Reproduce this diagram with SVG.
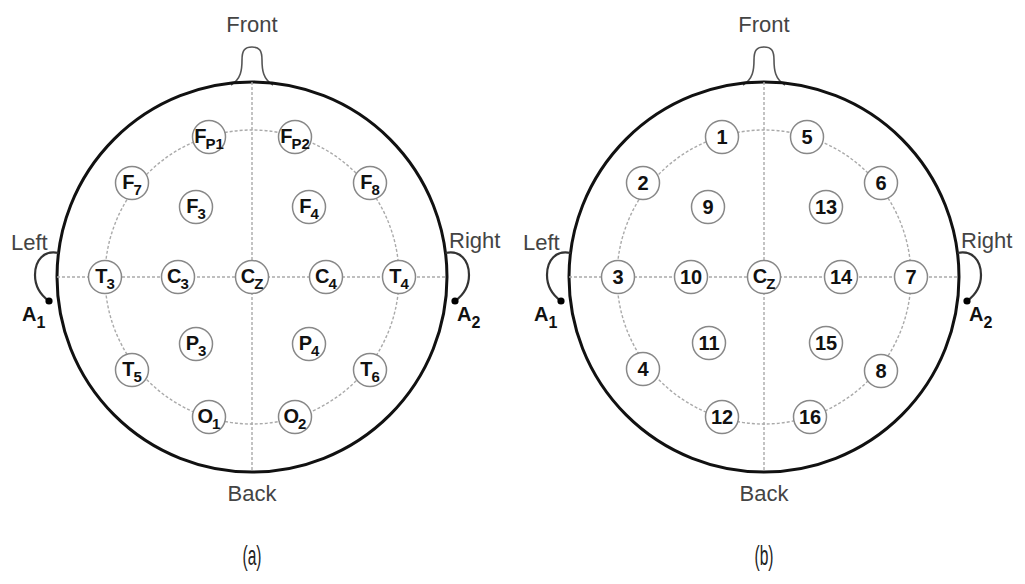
<svg xmlns="http://www.w3.org/2000/svg" width="1025" height="584" viewBox="0 0 1025 584">
  <style>
    .head { fill: none; stroke: #111; stroke-width: 3; }
    .nose { fill: #fff; stroke: #555; stroke-width: 1.6; }
    .ear { fill: none; stroke: #333; stroke-width: 2.2; }
    .guide { fill: none; stroke: #aaa; stroke-width: 1.4; stroke-dasharray: 3 2; }
    .el circle { fill: #fff; stroke: #888; stroke-width: 1.5; }
    .el text { font-family: "Liberation Sans", Arial, sans-serif; font-weight: bold; font-size: 20px; fill: #111; text-anchor: middle; }
    .sub { font-size: 15px; }
    .side { font-family: "Liberation Sans", Arial, sans-serif; font-size: 22px; fill: #444; }
    .ref { font-family: "Liberation Sans", Arial, sans-serif; font-size: 20px; font-weight: bold; fill: #111; }
    .cap { font-family: "Liberation Sans", Arial, sans-serif; font-size: 28px; fill: #222; text-anchor: middle; }
  </style>

  <!-- (a) 10-20 electrode names -->
  <g id="headA">
    <path class="nose" d="M231,85 C241,79 242,70 242,60 C242,50 245,47 252,47 C259,47 262,50 262,60 C262,70 263,79 273,85"/>
    <circle class="head" cx="252" cy="277" r="195"/>
    <path class="ear" d="M58.5,253 C44,250 35,260 35,275 C35,288 42,296 49,301"/>
    <circle cx="49" cy="301" r="3.6" fill="#000"/>
    <path class="ear" d="M445.5,253 C460,250 469,260 469,275 C469,288 462,296 455,301"/>
    <circle cx="455" cy="301" r="3.6" fill="#000"/>
    <text class="side" x="252" y="32" text-anchor="middle">Front</text>
    <text class="side" x="252" y="501" text-anchor="middle">Back</text>
    <text class="side" x="11" y="250">Left</text>
    <text class="side" x="449" y="248">Right</text>
    <text class="ref" x="22" y="321">A<tspan font-size="16" dy="7">1</tspan></text>
    <text class="ref" x="457" y="321">A<tspan font-size="16" dy="7">2</tspan></text>
  </g>
  <g id="guidesA">
    <circle class="guide" cx="252" cy="277" r="147"/>
    <line class="guide" x1="57" y1="277" x2="447" y2="277"/>
    <line class="guide" x1="252" y1="82" x2="252" y2="472"/>
  </g>
  <g id="Fp1" class="el"><circle cx="209" cy="137" r="16.5"/><text x="209" y="143">F<tspan class="sub" dx="-1" dy="6">P1</tspan></text></g>
  <g id="Fp2" class="el"><circle cx="295" cy="137" r="16.5"/><text x="295" y="143">F<tspan class="sub" dx="-1" dy="6">P2</tspan></text></g>
  <g id="F7" class="el"><circle cx="132" cy="183" r="16.5"/><text x="132" y="189">F<tspan class="sub" dx="-1" dy="6">7</tspan></text></g>
  <g id="F8" class="el"><circle cx="370" cy="183" r="16.5"/><text x="370" y="189">F<tspan class="sub" dx="-1" dy="6">8</tspan></text></g>
  <g id="F3" class="el"><circle cx="196" cy="207" r="16.5"/><text x="196" y="213">F<tspan class="sub" dx="-1" dy="6">3</tspan></text></g>
  <g id="F4" class="el"><circle cx="309" cy="207" r="16.5"/><text x="309" y="213">F<tspan class="sub" dx="-1" dy="6">4</tspan></text></g>
  <g id="T3" class="el"><circle cx="105" cy="277" r="16.5"/><text x="105" y="283">T<tspan class="sub" dx="-1" dy="6">3</tspan></text></g>
  <g id="C3" class="el"><circle cx="178" cy="277" r="16.5"/><text x="178" y="283">C<tspan class="sub" dx="-1" dy="6">3</tspan></text></g>
  <g id="Cz" class="el"><circle cx="252" cy="277" r="16.5"/><text x="252" y="283">C<tspan class="sub" dx="-1" dy="6">Z</tspan></text></g>
  <g id="C4" class="el"><circle cx="326" cy="277" r="16.5"/><text x="326" y="283">C<tspan class="sub" dx="-1" dy="6">4</tspan></text></g>
  <g id="T4" class="el"><circle cx="399" cy="277" r="16.5"/><text x="399" y="283">T<tspan class="sub" dx="-1" dy="6">4</tspan></text></g>
  <g id="P3" class="el"><circle cx="196" cy="344" r="16.5"/><text x="196" y="350">P<tspan class="sub" dx="-1" dy="6">3</tspan></text></g>
  <g id="P4" class="el"><circle cx="309" cy="344" r="16.5"/><text x="309" y="350">P<tspan class="sub" dx="-1" dy="6">4</tspan></text></g>
  <g id="T5" class="el"><circle cx="132" cy="370" r="16.5"/><text x="132" y="376">T<tspan class="sub" dx="-1" dy="6">5</tspan></text></g>
  <g id="T6" class="el"><circle cx="370" cy="370" r="16.5"/><text x="370" y="376">T<tspan class="sub" dx="-1" dy="6">6</tspan></text></g>
  <g id="O1" class="el"><circle cx="209" cy="417" r="16.5"/><text x="209" y="423">O<tspan class="sub" dx="-1" dy="6">1</tspan></text></g>
  <g id="O2" class="el"><circle cx="295" cy="417" r="16.5"/><text x="295" y="423">O<tspan class="sub" dx="-1" dy="6">2</tspan></text></g>
  <text class="cap" x="252" y="565" textLength="19" lengthAdjust="spacingAndGlyphs">(a)</text>

  <!-- (b) channel numbering -->
  <g id="headB">
    <path class="nose" d="M743,85 C753,79 754,70 754,60 C754,50 757,47 764,47 C771,47 774,50 774,60 C774,70 775,79 785,85"/>
    <circle class="head" cx="764" cy="277" r="195"/>
    <path class="ear" d="M570.5,253 C556,250 547,260 547,275 C547,288 554,296 561,301"/>
    <circle cx="561" cy="301" r="3.6" fill="#000"/>
    <path class="ear" d="M957.5,253 C972,250 981,260 981,275 C981,288 974,296 967,301"/>
    <circle cx="967" cy="301" r="3.6" fill="#000"/>
    <text class="side" x="764" y="32" text-anchor="middle">Front</text>
    <text class="side" x="764" y="501" text-anchor="middle">Back</text>
    <text class="side" x="523" y="250">Left</text>
    <text class="side" x="961" y="248">Right</text>
    <text class="ref" x="534" y="321">A<tspan font-size="16" dy="7">1</tspan></text>
    <text class="ref" x="969" y="321">A<tspan font-size="16" dy="7">2</tspan></text>
  </g>
  <g id="guidesB">
    <circle class="guide" cx="764" cy="277" r="147"/>
    <line class="guide" x1="569" y1="277" x2="959" y2="277"/>
    <line class="guide" x1="764" y1="82" x2="764" y2="472"/>
  </g>
  <g id="ch1" class="el"><circle cx="722" cy="137" r="16.5"/><text x="722" y="144">1</text></g>
  <g id="ch2" class="el"><circle cx="643" cy="183" r="16.5"/><text x="643" y="190">2</text></g>
  <g id="ch3" class="el"><circle cx="618" cy="277" r="16.5"/><text x="618" y="284">3</text></g>
  <g id="ch4" class="el"><circle cx="643" cy="369" r="16.5"/><text x="643" y="376">4</text></g>
  <g id="ch5" class="el"><circle cx="807" cy="137" r="16.5"/><text x="807" y="144">5</text></g>
  <g id="ch6" class="el"><circle cx="881" cy="183" r="16.5"/><text x="881" y="190">6</text></g>
  <g id="ch7" class="el"><circle cx="911" cy="277" r="16.5"/><text x="911" y="284">7</text></g>
  <g id="ch8" class="el"><circle cx="881" cy="371" r="16.5"/><text x="881" y="378">8</text></g>
  <g id="ch9" class="el"><circle cx="708" cy="207" r="16.5"/><text x="708" y="214">9</text></g>
  <g id="ch10" class="el"><circle cx="691" cy="277" r="16.5"/><text x="691" y="284">10</text></g>
  <g id="ch11" class="el"><circle cx="709" cy="343" r="16.5"/><text x="709" y="350">11</text></g>
  <g id="ch12" class="el"><circle cx="722" cy="417" r="16.5"/><text x="722" y="424">12</text></g>
  <g id="ch13" class="el"><circle cx="826" cy="207" r="16.5"/><text x="826" y="214">13</text></g>
  <g id="ch14" class="el"><circle cx="841" cy="277" r="16.5"/><text x="841" y="284">14</text></g>
  <g id="ch15" class="el"><circle cx="826" cy="343" r="16.5"/><text x="826" y="350">15</text></g>
  <g id="ch16" class="el"><circle cx="810" cy="417" r="16.5"/><text x="810" y="424">16</text></g>
  <g id="chCz" class="el"><circle cx="764" cy="277" r="16.5"/><text x="764" y="283">C<tspan class="sub" dx="-1" dy="6">Z</tspan></text></g>
  <text class="cap" x="764" y="565" textLength="19" lengthAdjust="spacingAndGlyphs">(b)</text>
</svg>
